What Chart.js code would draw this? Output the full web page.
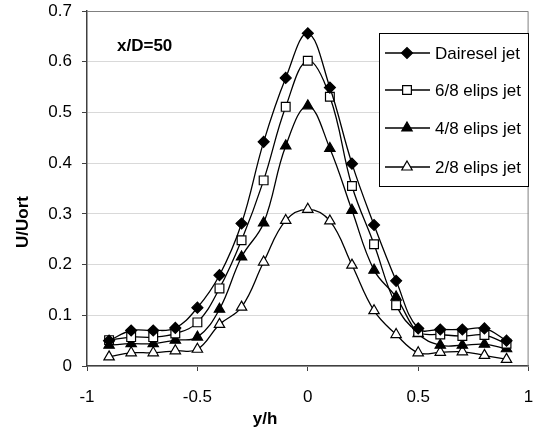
<!DOCTYPE html>
<html>
<head>
<meta charset="utf-8">
<script src="https://cdn.jsdelivr.net/npm/chart.js@4"></script>
<style>
  html, body { margin: 0; padding: 0; background: #fff; }
  #wrap { position: relative; width: 536px; height: 439px; }
</style>
</head>
<body>
<div id="wrap"><canvas id="profile"></canvas></div>
<script>
const yPositions = [-0.9, -0.8, -0.7, -0.6, -0.5, -0.4, -0.3, -0.2, -0.1, 0, 0.1, 0.2, 0.3, 0.4, 0.5, 0.6, 0.7, 0.8, 0.9];

const dairesel = [0.050, 0.070, 0.070, 0.075, 0.115, 0.179, 0.281, 0.442, 0.568, 0.656, 0.549, 0.399, 0.278, 0.168, 0.074, 0.072, 0.072, 0.074, 0.050];
const elips68 = [0.051, 0.057, 0.057, 0.064, 0.086, 0.153, 0.248, 0.366, 0.511, 0.602, 0.531, 0.355, 0.240, 0.120, 0.067, 0.062, 0.059, 0.061, 0.044];
const elips48 = [0.041, 0.044, 0.044, 0.051, 0.057, 0.112, 0.215, 0.282, 0.434, 0.513, 0.429, 0.307, 0.189, 0.136, 0.064, 0.041, 0.041, 0.043, 0.034];
const elips28 = [0.018, 0.026, 0.026, 0.030, 0.033, 0.082, 0.116, 0.205, 0.287, 0.309, 0.286, 0.199, 0.109, 0.062, 0.026, 0.027, 0.028, 0.021, 0.013];

const seriesLabels = ['Dairesel jet', '6/8 elips jet', '4/8 elips jet', '2/8 elips jet'];

const FONT = '"Liberation Sans", Arial, sans-serif';

function series(label, values, style, fill, radius) {
  return {
    label,
    data: yPositions.map((x, i) => ({ x, y: values[i] })),
    borderColor: '#000',
    borderWidth: 1.3,
    tension: 0.4,
    pointStyle: style,
    pointRadius: radius,
    pointBackgroundColor: fill,
    pointBorderColor: '#000',
    pointBorderWidth: 1.2
  };
}

// legend box inside the plot, upper right, plus the x/D label and axis titles
const overlay = {
  id: 'overlay',
  afterDraw(chart) {
    const ctx = chart.ctx;
    const a = chart.chartArea;
    ctx.save();
    // gray frame on top and right
    ctx.strokeStyle = '#808080';
    ctx.lineWidth = 1;
    ctx.beginPath();
    ctx.moveTo(a.left, a.top + 0.5);
    ctx.lineTo(a.right - 0.5, a.top + 0.5);
    ctx.lineTo(a.right - 0.5, a.bottom);
    ctx.stroke();

    // legend
    const bx = 379, by = 33, bw = 149, bh = 153;
    ctx.fillStyle = '#fff';
    ctx.fillRect(bx, by, bw, bh);
    ctx.strokeStyle = '#000';
    ctx.strokeRect(bx + 0.5, by + 0.5, bw, bh);
    const rows = [53, 90, 128, 167];
    ctx.font = '17px ' + FONT;
    ctx.textBaseline = 'middle';
    chart.data.datasets.forEach((ds, i) => {
      const cy = rows[i];
      ctx.strokeStyle = '#000';
      ctx.lineWidth = 1.3;
      ctx.beginPath();
      ctx.moveTo(385, cy);
      ctx.lineTo(430, cy);
      ctx.stroke();
      ctx.fillStyle = ds.pointBackgroundColor;
      ctx.lineWidth = 1.2;
      Chart.helpers.drawPoint(ctx, { pointStyle: ds.pointStyle, rotation: 0, radius: ds.pointRadius, borderWidth: 1.2 }, 407, cy);
      ctx.fillStyle = '#000';
      ctx.textAlign = 'left';
      ctx.fillText(ds.label, 435, cy + 1);
    });

    ctx.fillStyle = '#000';
    ctx.font = 'bold 17px ' + FONT;
    ctx.textAlign = 'left';
    ctx.fillText('x/D=50', 117, 46);

    ctx.textAlign = 'center';
    ctx.fillText('y/h', 265, 419);
    ctx.translate(23, 222);
    ctx.rotate(-Math.PI / 2);
    ctx.fillText('U/Uort', 0, 0);
    ctx.restore();
  }
};

new Chart(document.getElementById('profile'), {
  type: 'line',
  data: {
    datasets: [
      series(seriesLabels[0], dairesel, 'rectRot', '#000', 5.5),
      series(seriesLabels[1], elips68, 'rect', '#fff', 6.2),
      series(seriesLabels[2], elips48, 'triangle', '#000', 6),
      series(seriesLabels[3], elips28, 'triangle', '#fff', 6)
    ]
  },
  options: {
    responsive: true,
    maintainAspectRatio: false,
    animation: false,
    layout: { padding: { left: 0, right: 5, top: 11, bottom: 0 } },
    plugins: { legend: { display: false }, tooltip: { enabled: false } },
    scales: {
      x: {
        type: 'linear',
        min: -1,
        max: 1,
        ticks: {
          stepSize: 0.5, color: '#000', padding: 16, font: { family: FONT, size: 17 },
          callback: (v) => String(Math.round(v * 10) / 10)
        },
        grid: { drawOnChartArea: false, tickLength: 5, tickColor: '#404040' },
        border: { color: '#404040', width: 1.5 },
        afterFit: (s) => { s.height = 73; s.paddingLeft = 0; s.paddingRight = 0; }
      },
      y: {
        min: 0,
        max: 0.7,
        ticks: {
          stepSize: 0.1, color: '#000', padding: 10, font: { family: FONT, size: 17 },
          callback: (v) => String(Math.round(v * 10) / 10)
        },
        grid: { color: '#d9d9d9', tickLength: 5, tickColor: '#404040' },
        border: { color: '#404040', width: 1.5 },
        afterFit: (s) => { s.width = 87; s.paddingTop = 0; s.paddingBottom = 0; }
      }
    }
  },
  plugins: [overlay]
});
</script>
</body>
</html>
